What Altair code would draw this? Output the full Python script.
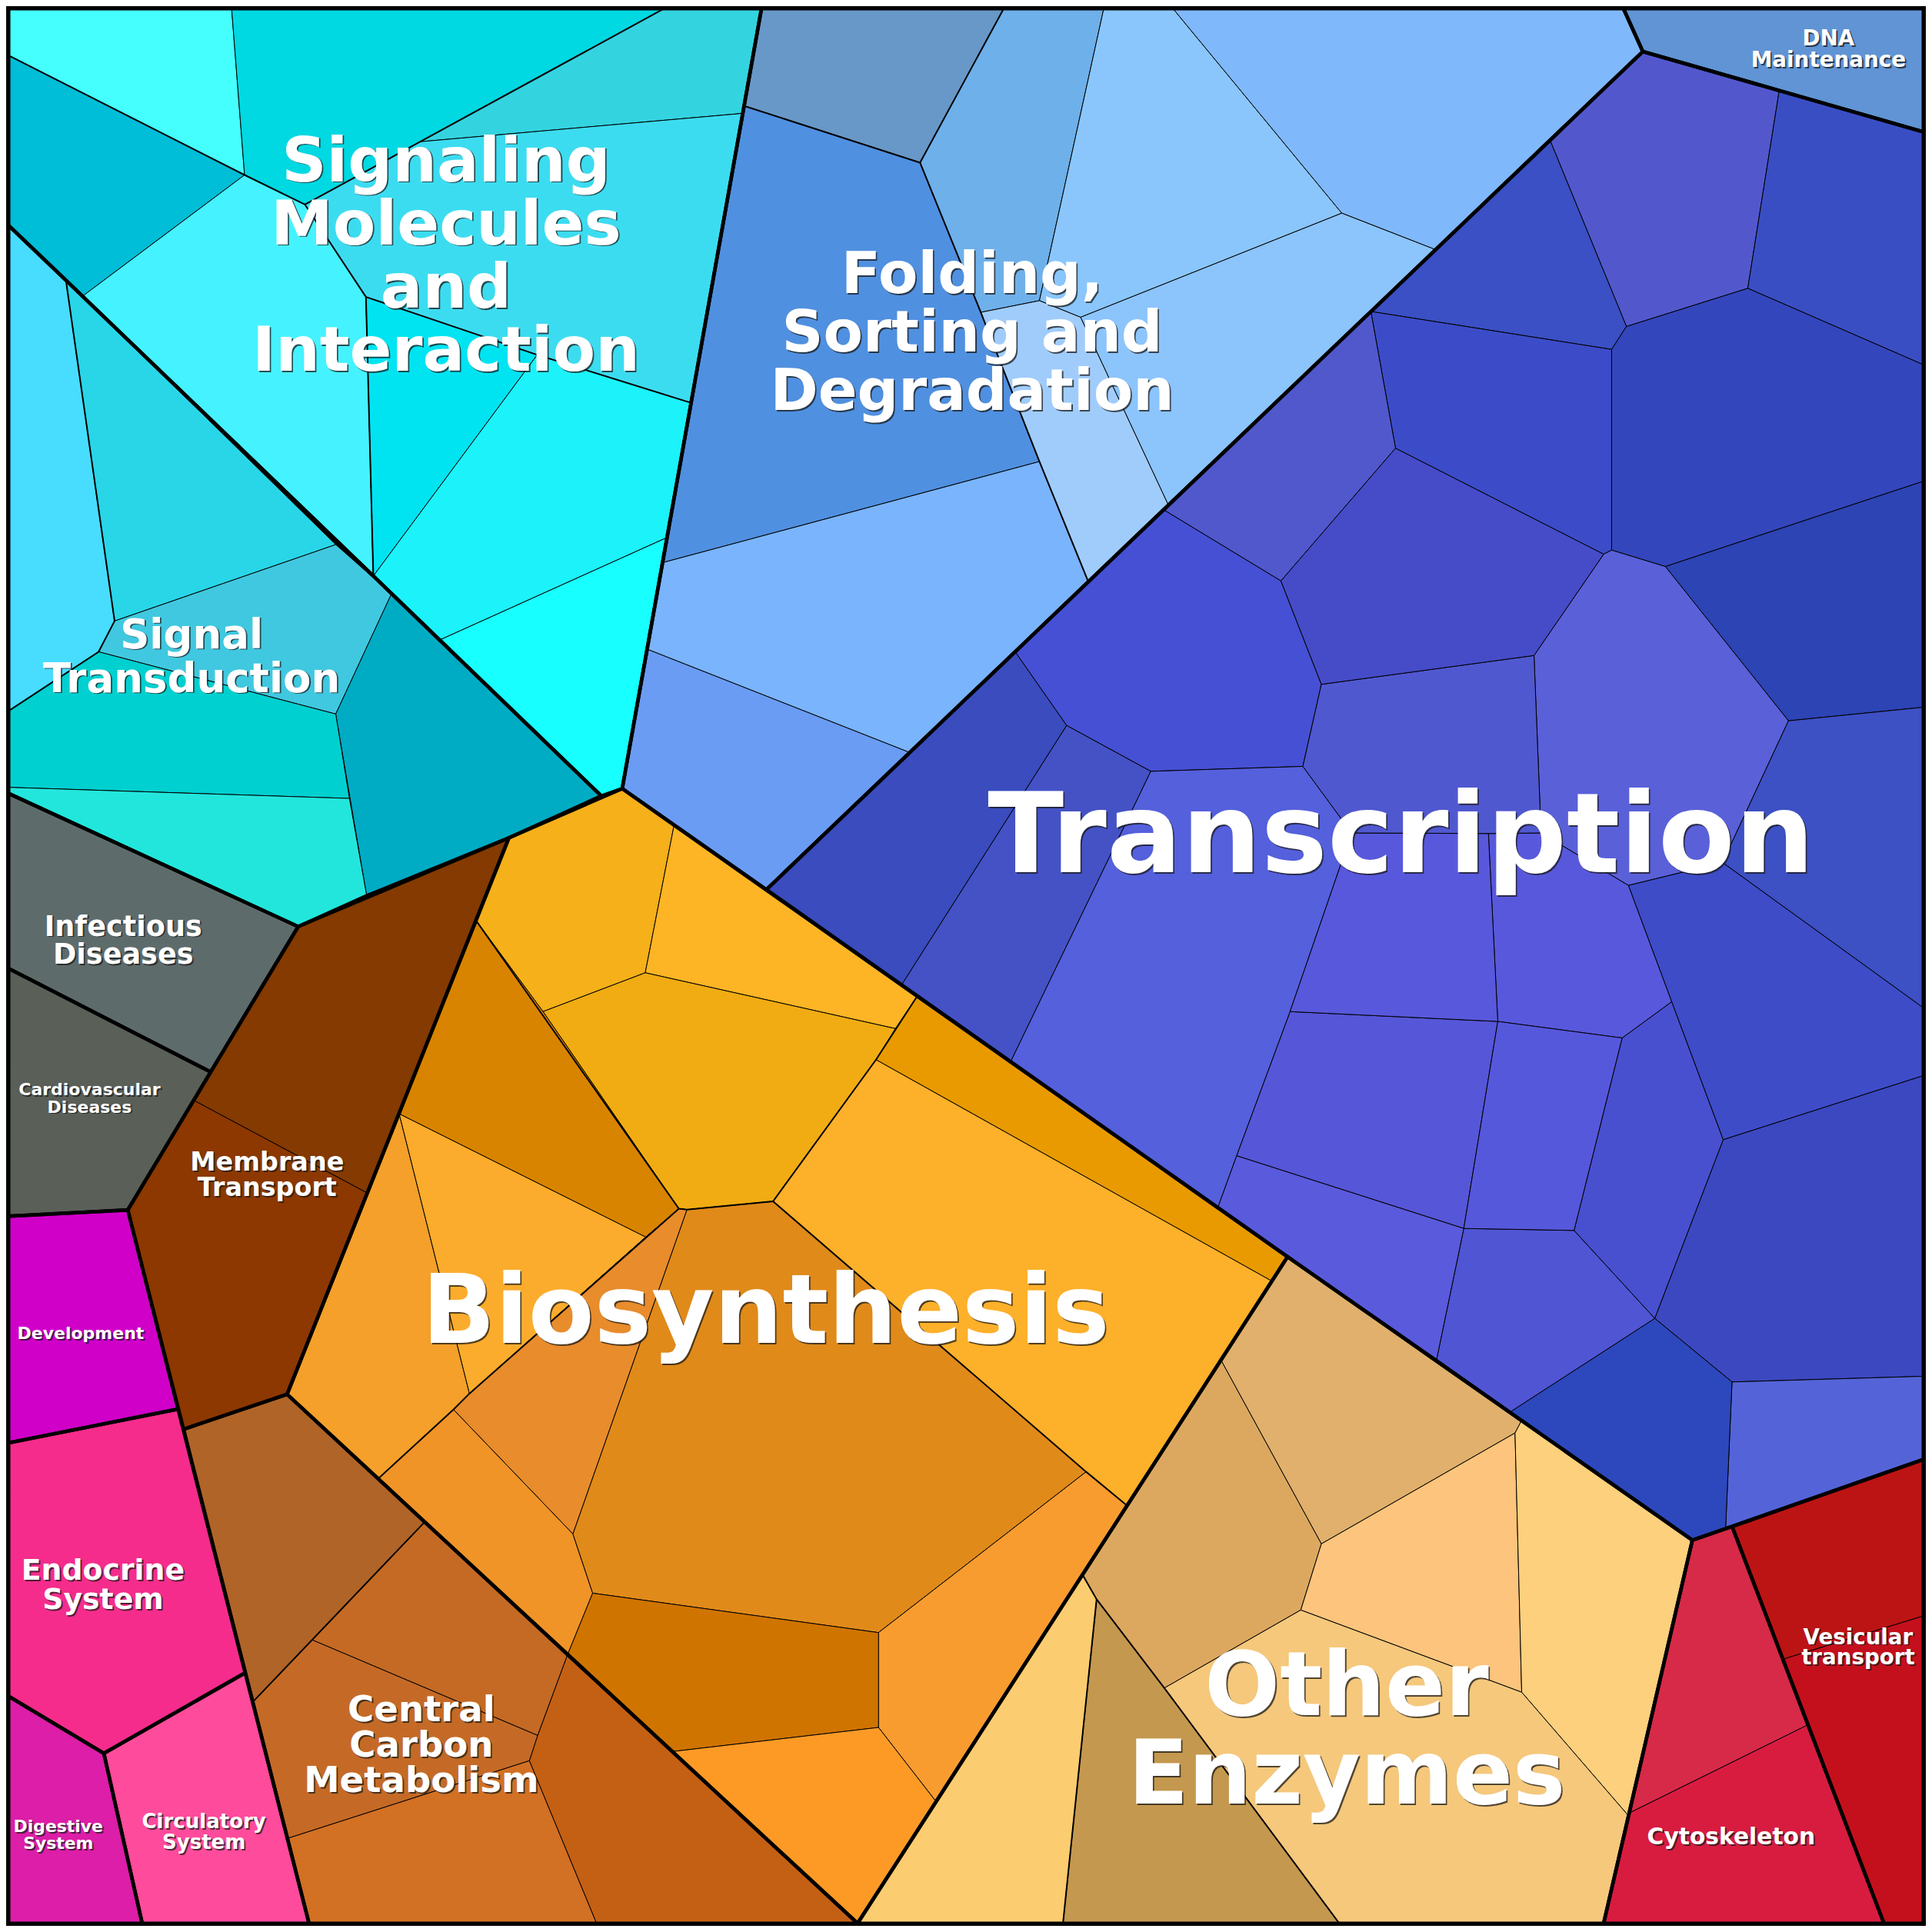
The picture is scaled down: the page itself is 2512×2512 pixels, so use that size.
import altair as alt
import pandas as pd

# ---------------- data (reference units: square 0..1568) ----------------
FRAME = 1568

cell_groups = [
    "Signaling Molecules and Interaction"] * 9 + ["Signal Transduction"] * 6 + [
    "Infectious Diseases", "Cardiovascular Diseases", "Membrane Transport", "Membrane Transport",
    "Development", "Endocrine System", "Digestive System", "Circulatory System"] + [
    "Central Carbon Metabolism"] * 5 + ["Biosynthesis"] * 14 + [
    "Folding, Sorting and Degradation"] * 9 + ["DNA Maintenance"] + ["Transcription"] * 26 + [
    "Other Enzymes"] * 7 + ["Cytoskeleton", "Cytoskeleton", "Vesicular transport", "Vesicular transport"]

cell_colors = [
    # Signaling Molecules and Interaction
    "#45ffff", "#00bdd8", "#00d8e2", "#45f2ff", "#33d4e0", "#3cdcf0", "#00e4f2", "#1cf2fa", "#18ffff",
    # Signal Transduction
    "#48dcff", "#28d6e8", "#40c8e0", "#00acc4", "#00d0d0", "#22e6dc",
    # diseases, membrane, organismal systems
    "#5e6b6b", "#5a5f58", "#843a00", "#8c3800", "#d000c8", "#f52c8c", "#dc1ea8", "#ff4b9b",
    # Central Carbon Metabolism
    "#b06428", "#c46a24", "#c56a26", "#d27024", "#c46014",
    # Biosynthesis
    "#f5b01a", "#fdb525", "#f0ac12", "#d88400", "#f4a02a", "#fcac2c", "#e88c2c",
    "#f09428", "#e08a1a", "#fdb02a", "#e89a00", "#f99c30", "#d07400", "#fd9a26",
    # Folding
    "#6898c8", "#5090e0", "#6eb0ea", "#8ac6fc", "#80b8fc", "#8cc4fc", "#a0ccfc", "#7ab4fc", "#6a9cf4",
    # DNA Maintenance
    "#6094d4",
    # Transcription
    "#5258cc", "#3a4ec4", "#3a50c4", "#3c4cc8", "#3446bc", "#2c44b4", "#5a60d8", "#3d50c4",
    "#3e4cc8", "#3c48c0", "#5464d8", "#2c48bc", "#5055d4", "#4850d0", "#5858dc", "#5656d8",
    "#5a5adc", "#5058cc", "#4650d4", "#3a4cbe", "#4452c6", "#5460dc", "#5858dc", "#5058d0",
    "#464cc8", "#5658dc",
    # Other Enzymes
    "#e0b06c", "#dca860", "#fcc47c", "#fcd07c", "#f5c87c", "#c4984e", "#fccc70",
    # Cytoskeleton, Vesicular transport
    "#d62a48", "#d81c40", "#bc1414", "#c4101c",
]

cell_polygons = [
    # Signaling Molecules and Interaction
    [(7, 7), (188, 7), (198.5, 142), (7, 45)],
    [(7, 45), (198.5, 142), (66.9, 240.5), (7, 183)],
    [(188, 7), (539, 7), (247.5, 166), (198.5, 142)],
    [(198.5, 142), (247.5, 166), (297, 241), (303, 467.5), (66.9, 240.5)],
    [(341, 115), (539, 7), (618, 7), (603, 92)],
    [(247.5, 166), (341, 115), (603, 92), (561, 327), (436, 288), (297, 241)],
    [(297, 241), (436, 288), (303, 467.5)],
    [(436, 288), (561, 327), (541, 436.4), (357.8, 519), (303, 467.5)],
    [(357.8, 519), (541, 436.4), (505, 640), (488, 646)],
    # Signal Transduction
    [(7, 183), (53.5, 227.4), (93, 504), (80, 529), (7, 577)],
    [(53.5, 227.4), (272.5, 442), (93, 504)],
    [(93, 504), (272.5, 442), (317.7, 482), (272.5, 579.5), (80, 529)],
    [(317.7, 482), (488, 646), (413, 680), (297.6, 727), (272.5, 579.5)],
    [(7, 577), (80, 529), (272.5, 579.5), (283.6, 648), (7, 639)],
    [(7, 639), (283.6, 648), (297.6, 727), (242, 752), (7, 644)],
    # Infectious, Cardiovascular, Membrane x2, Development, Endocrine, Digestive, Circulatory
    [(7, 644), (242, 752), (171, 870), (7, 786)],
    [(7, 786), (171, 870), (103.7, 982), (7, 987)],
    [(242, 752), (413, 680), (297.6, 968), (157.2, 893)],
    [(157.2, 893), (297.6, 968), (233, 1131.6), (149, 1160), (103.7, 982)],
    [(7, 987), (103.7, 982), (144.5, 1143.6), (7, 1171)],
    [(7, 1171), (144.5, 1143.6), (199, 1357.7), (84.3, 1423), (7, 1376.7)],
    [(7, 1376.7), (84.3, 1423), (115.4, 1561), (7, 1561)],
    [(84.3, 1423), (199, 1357.7), (250.8, 1561), (115.4, 1561)],
    # Central Carbon Metabolism
    [(149, 1160), (233, 1131.6), (344.4, 1235.5), (205.5, 1381)],
    [(344.4, 1235.5), (460.8, 1342.5), (436.4, 1408.5), (253.5, 1331)],
    [(205.5, 1381), (253.5, 1331), (436.4, 1408.5), (429.7, 1429), (233.5, 1492)],
    [(233.5, 1492), (429.7, 1429), (484.2, 1561), (250.8, 1561)],
    [(460.8, 1342.5), (696, 1561), (484.2, 1561), (429.7, 1429), (436.4, 1408.5)],
    # Biosynthesis
    [(413, 680), (505, 640), (547, 670), (523.7, 789.5), (440.7, 821), (387, 748)],
    [(547, 670), (744.4, 808.5), (726.7, 834.8), (523.7, 789.5)],
    [(440.7, 821), (523.7, 789.5), (726.7, 834.8), (711, 860), (627.4, 975), (557.6, 981.7), (551, 981)],
    [(387, 748), (440.7, 821), (551, 981), (524, 1004), (324, 904)],
    [(233, 1131.6), (324, 904), (381, 1131), (368, 1144), (307, 1200)],
    [(324, 904), (524, 1004), (381, 1131)],
    [(381, 1131), (524, 1004), (551, 981), (557.6, 981.7), (465, 1245), (368, 1144)],
    [(307, 1200), (368, 1144), (465, 1245), (481, 1293), (460.8, 1342.5)],
    [(557.6, 981.7), (627.4, 975), (881.5, 1194.5), (713, 1325), (481, 1293), (465, 1245)],
    [(711, 860), (1032.3, 1039.7), (914.8, 1222), (881.5, 1194.5), (627.4, 975)],
    [(744.4, 808.5), (1045, 1020), (1032.3, 1039.7), (711, 860)],
    [(713, 1325), (881.5, 1194.5), (914.8, 1222), (759.6, 1462), (713, 1402)],
    [(481, 1293), (713, 1325), (713, 1402), (546, 1421.5), (460.8, 1342.5)],
    [(546, 1421.5), (713, 1402), (759.6, 1462), (696, 1561)],
    # Folding, Sorting and Degradation
    [(618, 7), (814.6, 7), (746.7, 132), (604, 86)],
    [(604, 86), (746.7, 132), (796, 253.5), (843.6, 374.6), (538, 456.6)],
    [(814.6, 7), (895.8, 7), (843.6, 244), (796, 253.5), (746.7, 132)],
    [(895.8, 7), (952, 7), (1089, 173), (877, 257.5), (843.6, 244)],
    [(952, 7), (1317.6, 7), (1333.3, 41.8), (1165, 202.6), (1089, 173)],
    [(877, 257.5), (1089, 173), (1165, 202.6), (948, 409.5)],
    [(796, 253.5), (843.6, 244), (877, 257.5), (948, 409.5), (883, 471.5), (843.6, 374.6)],
    [(538, 456.6), (843.6, 374.6), (883, 471.5), (737.7, 610.5), (525.5, 527)],
    [(525.5, 527), (737.7, 610.5), (622, 722), (505, 640)],
    # DNA Maintenance
    [(1317.6, 7), (1561, 7), (1561, 107), (1333.3, 41.8)],
    # Transcription
    [(1333.3, 41.8), (1444, 73.5), (1418.5, 234), (1320, 265), (1258, 113.8)],
    [(1444, 73.5), (1561, 107), (1561, 296), (1418.5, 234)],
    [(1258, 113.8), (1320, 265), (1308, 283.6), (1112.6, 252.8)],
    [(1112.6, 252.8), (1308, 283.6), (1308, 446.5), (1301.5, 449.8), (1132.6, 363.8)],
    [(1320, 265), (1418.5, 234), (1561, 296), (1561, 390.6), (1351.6, 459.8), (1308, 446.5), (1308, 283.6)],
    [(1351.6, 459.8), (1561, 390.6), (1561, 574), (1451.5, 585)],
    [(1301.5, 449.8), (1308, 446.5), (1351.6, 459.8), (1451.5, 585), (1398, 700), (1321.6, 718.6), (1250.7, 676), (1245, 532)],
    [(1451.5, 585), (1561, 574), (1561, 818), (1398, 700)],
    [(1321.6, 718.6), (1398, 700), (1561, 818), (1561, 873), (1398.5, 925), (1356.7, 813)],
    [(1398.5, 925), (1561, 873), (1561, 1117), (1405.7, 1121.6), (1343, 1070)],
    [(1405.7, 1121.6), (1561, 1117), (1561, 1184.5), (1400.5, 1240.4)],
    [(1226.3, 1145.5), (1343, 1070), (1405.7, 1121.6), (1400.5, 1240.4), (1373.5, 1250)],
    [(1188, 997), (1277.5, 998.6), (1343, 1070), (1226.3, 1145.5), (1166, 1103)],
    [(1277.5, 998.6), (1316.5, 842.4), (1356.7, 813), (1398.5, 925), (1343, 1070)],
    [(1208, 676.5), (1250.7, 676), (1321.6, 718.6), (1356.7, 813), (1316.5, 842.4), (1215.6, 829)],
    [(1047, 821), (1215.6, 829), (1188, 997), (1003.6, 938)],
    [(1003.6, 938), (1188, 997), (1166, 1103), (988.5, 979.5)],
    [(944, 413.5), (1112.6, 252.8), (1132.6, 363.8), (1039.6, 471.5)],
    [(824.6, 530), (944, 413.5), (1039.6, 471.5), (1072.4, 555.4), (1057.4, 622), (934, 626), (865.7, 588.8)],
    [(622, 722), (824.6, 530), (865.7, 588.8), (732, 799)],
    [(732, 799), (865.7, 588.8), (934, 626), (820.6, 861)],
    [(820.6, 861), (934, 626), (1057.4, 622), (1097, 676), (1047, 821), (1003.6, 938), (988.5, 979.5)],
    [(1097, 676), (1208, 676.5), (1215.6, 829), (1047, 821)],
    [(1072.4, 555.4), (1245, 532), (1250.7, 676), (1208, 676.5), (1097, 676), (1057.4, 622)],
    [(1039.6, 471.5), (1132.6, 363.8), (1301.5, 449.8), (1245, 532), (1072.4, 555.4)],
    [(1215.6, 829), (1316.5, 842.4), (1277.5, 998.6), (1188, 997)],
    # Other Enzymes
    [(1045, 1020), (1234.6, 1153.5), (1229.6, 1163), (1072.4, 1253), (991, 1104)],
    [(991, 1104), (1072.4, 1253), (1055.7, 1306.7), (945, 1370), (890, 1298), (878.6, 1278)],
    [(1072.4, 1253), (1229.6, 1163), (1235, 1373.4), (1055.7, 1306.7)],
    [(1234.6, 1153.5), (1373.5, 1250), (1321.7, 1473.7), (1235, 1373.4), (1229.6, 1163)],
    [(945, 1370), (1055.7, 1306.7), (1235, 1373.4), (1321.7, 1473.7), (1301.5, 1561), (1087, 1561)],
    [(890, 1298), (945, 1370), (1087, 1561), (862.7, 1561)],
    [(878.6, 1278), (890, 1298), (862.7, 1561), (696, 1561)],
    # Cytoskeleton, Vesicular transport
    [(1373.5, 1250), (1405.8, 1239), (1467, 1400), (1322.2, 1471.5)],
    [(1322.2, 1471.5), (1467, 1400), (1529, 1561), (1301.5, 1561)],
    [(1405.8, 1239), (1561, 1184.5), (1561, 1311.5), (1447.1, 1346.6)],
    [(1447.1, 1346.6), (1561, 1311.5), (1561, 1561), (1529, 1561)],
]

group_names = [
    "Signaling Molecules and Interaction", "Signal Transduction", "Infectious Diseases",
    "Cardiovascular Diseases", "Membrane Transport", "Development", "Endocrine System",
    "Digestive System", "Circulatory System", "Central Carbon Metabolism", "Biosynthesis",
    "Folding, Sorting and Degradation", "DNA Maintenance", "Transcription", "Other Enzymes",
    "Cytoskeleton", "Vesicular transport",
]
group_polygons = [
    [(7, 7), (618, 7), (505, 640), (488, 646), (303, 467.5), (53.5, 227.4), (7, 183)],
    [(7, 183), (53.5, 227.4), (303, 467.5), (488, 646), (413, 680), (297.6, 727), (242, 752), (7, 644)],
    [(7, 644), (242, 752), (171, 870), (7, 786)],
    [(7, 786), (171, 870), (103.7, 982), (7, 987)],
    [(242, 752), (413, 680), (233, 1131.6), (149, 1160), (103.7, 982)],
    [(7, 987), (103.7, 982), (144.5, 1143.6), (7, 1171)],
    [(7, 1171), (144.5, 1143.6), (199, 1357.7), (84.3, 1423), (7, 1376.7)],
    [(7, 1376.7), (84.3, 1423), (115.4, 1561), (7, 1561)],
    [(84.3, 1423), (199, 1357.7), (250.8, 1561), (115.4, 1561)],
    [(149, 1160), (233, 1131.6), (696, 1561), (250.8, 1561)],
    [(413, 680), (505, 640), (1045, 1020), (696, 1561), (233, 1131.6)],
    [(618, 7), (1317.6, 7), (1333.3, 41.8), (622, 722), (505, 640)],
    [(1317.6, 7), (1561, 7), (1561, 107), (1333.3, 41.8)],
    [(1333.3, 41.8), (1561, 107), (1561, 1184.5), (1373.5, 1250), (1045, 1020), (622, 722)],
    [(1045, 1020), (1373.5, 1250), (1301.5, 1561), (696, 1561)],
    [(1373.5, 1250), (1405.8, 1239), (1529, 1561), (1301.5, 1561)],
    [(1405.8, 1239), (1561, 1184.5), (1561, 1561), (1529, 1561)],
]

# second-level borders (drawn a little heavier than the leaf borders)
medium_lines = [
    [(7, 45), (198.5, 142), (247.5, 166), (539, 7)],
    [(247.5, 166), (297, 241), (303, 467.5)],
    [(297, 241), (436, 288), (561, 327)],
    [(53.5, 227.4), (93, 504), (80, 529), (7, 577)],
    [(604, 86), (746.7, 132), (814.6, 7)],
    [(746.7, 132), (796, 253.5), (843.6, 374.6), (883, 471.5)],
    [(387, 748), (551, 981), (557.6, 981.7), (627.4, 975), (711, 860), (744.4, 808.5)],
    [(551, 981), (381, 1131), (368, 1144), (307, 1200)],
    [(627.4, 975), (881.5, 1194.5), (914.8, 1222)],
    [(344.4, 1235.5), (205.5, 1381)],
    [(878.6, 1278), (890, 1298), (945, 1370), (1087, 1561)],
    [(890, 1298), (862.7, 1561)],
]

# one entry per label; multi-line labels use "\n"
label_text = [
    "Signaling\nMolecules\nand\nInteraction",
    "Folding,\nSorting and\nDegradation",
    "Transcription",
    "Biosynthesis",
    "Other\nEnzymes",
    "Signal\nTransduction",
    "Infectious\nDiseases",
    "Cardiovascular\nDiseases",
    "Membrane\nTransport",
    "Development",
    "Endocrine\nSystem",
    "Digestive\nSystem",
    "Circulatory\nSystem",
    "Central\nCarbon\nMetabolism",
    "Cytoskeleton",
    "Vesicular\ntransport",
    "DNA\nMaintenance",
]
label_x = [362, 789, 1137, 621.5, 1093, 155.5, 100, 72.7, 216.8, 65.5, 83.6, 47.3, 165.5, 342, 1405, 1508, 1484]
label_y = [147, 238, 708, 1090, 1392, 526, 759.4, 889, 950, 1086.8, 1282.4, 1487, 1483.7, 1396.8, 1497, 1334.3, 36.8]
label_size = [81, 75, 145, 125, 115, 53, 36.6, 22, 33.4, 22, 37.8, 21.9, 26, 46.6, 29.7, 27.7, 27.8]
label_line_height = [82.2, 76.1, 145, 125, 115.3, 56.9, 36.2, 22.4, 33.2, 22, 37.5, 21.6, 26.9, 46.3, 29.7, 26.8, 27.9]

# ---------------- build GeoJSON from the lists ----------------
def ring(poly):
    r = [[float(x), float(y)] for x, y in poly]
    r.append(r[0])
    return r


def polygon_feature(poly, props):
    return {"type": "Feature", "properties": props,
            "geometry": {"type": "Polygon", "coordinates": [ring(poly)]}}


frame_features = [polygon_feature([(0, 0), (FRAME, 0), (FRAME, FRAME), (0, FRAME)], {"name": "frame"})]
cell_features = [polygon_feature(p, {"group": g, "color": c})
                 for g, c, p in zip(cell_groups, cell_colors, cell_polygons)]
group_features = [polygon_feature(p, {"group": g}) for g, p in zip(group_names, group_polygons)]
medium_features = [{"type": "Feature", "properties": {"i": i},
                    "geometry": {"type": "LineString", "coordinates": [[float(x), float(y)] for x, y in ln]}}
                   for i, ln in enumerate(medium_lines)]

labels = pd.DataFrame({"text": label_text, "x": label_x, "y": label_y,
                       "size": label_size, "lh": label_line_height})

# page is 2512 px; body margin 8 px -> chart 2496 px; map reference pixels 1:1 onto the page
SIZE = 2496
PROJ = dict(type="identity", scale=2512 / FRAME, translate=[-8, -8])

frame = alt.Chart(alt.Data(values=frame_features)).mark_geoshape(
    fill="black", strokeWidth=0).project(**PROJ)

cells = alt.Chart(alt.Data(values=cell_features)).mark_geoshape(
    stroke="black", strokeWidth=1.0, strokeJoin="miter").encode(
    fill=alt.Fill("properties.color:N", scale=None),
    tooltip=alt.Tooltip("properties.group:N", title="group"),
).project(**PROJ)

mediums = alt.Chart(alt.Data(values=medium_features)).mark_geoshape(
    filled=False, stroke="black", strokeWidth=2.0).project(**PROJ)

outlines = alt.Chart(alt.Data(values=group_features)).mark_geoshape(
    filled=False, stroke="black", strokeWidth=4.6, strokeJoin="miter").project(**PROJ)

text_enc = dict(
    longitude="x:Q", latitude="y:Q", text="text:N",
    size=alt.Size("size:Q", scale=None, legend=None),
)
text_style = dict(
    font="DejaVu Sans", fontWeight="bold", align="center", baseline="alphabetic",
    lineBreak="\n", lineHeight={"expr": "datum.lh"},
)

shadow = alt.Chart(labels).mark_text(
    color="#1a1a1a", opacity=0.75, dx=1.8, dy=1.8, **text_style,
).encode(**text_enc).project(**PROJ)

text = alt.Chart(labels).mark_text(
    color="white", **text_style,
).encode(**text_enc).project(**PROJ)

chart = alt.layer(frame, cells, mediums, outlines, shadow, text).properties(
    width=SIZE, height=SIZE, padding=0,
    autosize=alt.AutoSizeParams(type="none"),
).configure_view(strokeWidth=0)

chart.save("out.html", embed_options={"renderer": "svg", "actions": False})
